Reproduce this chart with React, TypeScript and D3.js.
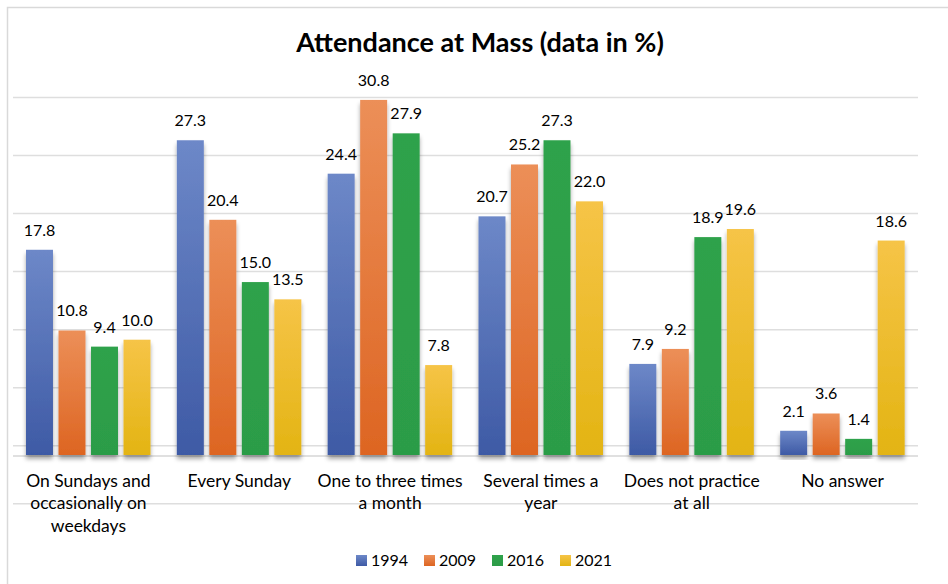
import * as d3 from 'd3';

const categories = [
  'On Sundays and occasionally on weekdays',
  'Every Sunday',
  'One to three times a month',
  'Several times a year',
  'Does not practice at all',
  'No answer',
];
const categoryLines = [
  ['On Sundays and', 'occasionally on', 'weekdays'],
  ['Every Sunday'],
  ['One to three times', 'a month'],
  ['Several times a', 'year'],
  ['Does not practice', 'at all'],
  ['No answer'],
];
const years = ['1994', '2009', '2016', '2021'];
const values1994 = [17.8, 27.3, 24.4, 20.7, 7.9, 2.1];
const values2009 = [10.8, 20.4, 30.8, 25.2, 9.2, 3.6];
const values2016 = [9.4, 15.0, 27.9, 27.3, 18.9, 1.4];
const values2021 = [10.0, 13.5, 7.8, 22.0, 19.6, 18.6];
const series = [values1994, values2009, values2016, values2021];
const gridSteps = [-1, 0, 1, 2, 3, 4, 5, 6];

const palette = [
  { top: '#6d88c8', bottom: '#3e5aa5' },
  { top: '#ec8f58', bottom: '#dd6522' },
  { top: '#2fa24b', bottom: '#2c9c47' },
  { top: '#f6c447', bottom: '#e3b413' },
];

const W = 948;
const H = 584;
const FONT = 'Lato, "Open Sans", sans-serif';

export default function App() {
  const x0 = d3.scaleBand<string>().domain(categories).range([13, 918]);
  const x1 = d3.scaleBand<string>().domain(years).range([13, 137.5]).paddingInner(0.17);
  const y = d3.scaleLinear().domain([0, 30.8]).range([455, 99.9]);
  const gridY = d3.scaleLinear().domain([0, 6]).range([445.7, 97.5]);

  return (
    <svg width={W} height={H} style={{ position: 'absolute', left: 0, top: 0, background: '#fff' }}>
      <defs>
        {palette.map((p, i) => (
          <linearGradient key={i} id={`grad${i}`} x1="0" y1="0" x2="0" y2="1">
            <stop offset="0%" stopColor={p.top} />
            <stop offset="100%" stopColor={p.bottom} />
          </linearGradient>
        ))}
        <filter id="shadow" x="-30%" y="-10%" width="160%" height="130%">
          <feDropShadow dx="0" dy="4" stdDeviation="2" floodColor="#000" floodOpacity="0.35" />
        </filter>
      </defs>
      <rect x={0} y={0} width={W} height={H} fill="#fff" />
      <rect x={7.5} y={7.5} width={1000} height={700} fill="none" stroke="#d9d9d9" strokeWidth={1.5} />

      <text x={480} y={52} textAnchor="middle" fontFamily={FONT} fontWeight={700} fontSize={27} fill="#000">
        Attendance at Mass (data in %)
      </text>

      {gridSteps.map((g) => (
        <line key={g} x1={13} x2={918} y1={gridY(g)} y2={gridY(g)} stroke="#dedede" strokeWidth={1.5} />
      ))}
      <line x1={13} x2={918} y1={y(0) + 1} y2={y(0) + 1} stroke="#d6d6d6" strokeWidth={1.5} />

      {categories.map((c, ci) => (
        <g key={c} transform={`translate(${x0(c)},0)`}>
          {series.map((vals, si) => {
            const v = vals[ci];
            const bx = x1(years[si])!;
            return (
              <g key={si}>
                <rect
                  x={bx}
                  y={y(v)}
                  width={x1.bandwidth()}
                  height={y(0) - y(v)}
                  fill={`url(#grad${si})`}
                  filter="url(#shadow)"
                />
                <text
                  x={bx + x1.bandwidth() / 2}
                  y={y(v) - 14}
                  textAnchor="middle"
                  fontFamily={FONT}
                  fontSize={16}
                  fill="#000"
                >
                  {v.toFixed(1)}
                </text>
              </g>
            );
          })}
          {categoryLines[ci].map((line, li) => (
            <text
              key={li}
              x={x0.bandwidth() / 2}
              y={486.5 + li * 22.5}
              textAnchor="middle"
              fontFamily={FONT}
              fontSize={17.5}
              fill="#000"
            >
              {line}
            </text>
          ))}
        </g>
      ))}

      {years.map((yr, i) => (
        <g key={yr} transform={`translate(${356 + i * 68},555)`}>
          <rect x={0} y={0} width={11} height={11} fill={`url(#grad${i})`} />
          <text x={15} y={11} fontFamily={FONT} fontSize={16} fill="#000">
            {yr}
          </text>
        </g>
      ))}
    </svg>
  );
}
